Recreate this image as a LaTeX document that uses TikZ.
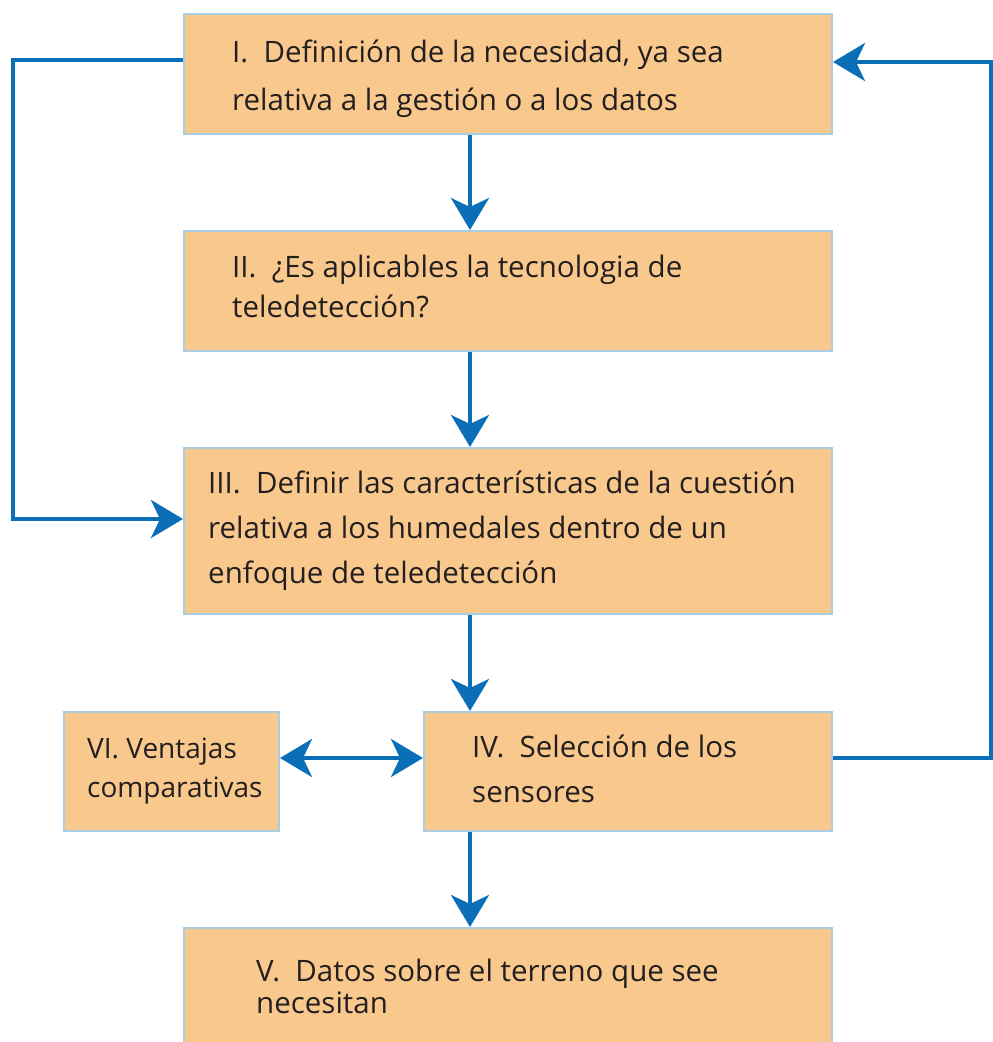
\documentclass[tikz,border=0pt]{standalone}
\usepackage{fontspec}
\setmainfont{Open Sans}
\usetikzlibrary{arrows.meta}
\definecolor{boxfill}{HTML}{F9C88C}
\definecolor{boxline}{HTML}{A9CDE3}
\definecolor{arrowblue}{HTML}{0B6FB8}
\definecolor{txtcol}{HTML}{231F20}
\begin{document}
\begin{tikzpicture}[x=1pt,y=-1pt,
  box/.style={draw=boxline,fill=boxfill,line width=2pt,rectangle,anchor=north west,inner sep=0pt},
  txt/.style={anchor=base west,align=left,inner sep=0pt,text=txtcol},
  conn/.style={draw=arrowblue,line width=4pt},
  tip/.style={-{Stealth[length=32pt,width=38pt,inset=9pt]}},
  both/.style={{Stealth[length=32pt,width=38pt,inset=9pt]}-{Stealth[length=32pt,width=38pt,inset=9pt]}}]
\useasboundingbox (0,0) rectangle (993,1042);
% boxes
\node[box,minimum width=648pt,minimum height=120pt] (b1) at (183,13) {};
\node[box,minimum width=648pt,minimum height=120pt] (b2) at (183,230) {};
\node[box,minimum width=648pt,minimum height=166pt] (b3) at (183,447) {};
\node[box,minimum width=408pt,minimum height=119pt] (b4) at (423,711) {};
\node[box,minimum width=215pt,minimum height=119pt] (b6) at (63,711) {};
\node[box,minimum width=648pt,minimum height=140pt] (b5) at (183,927) {};
% texts (anchor base = last line's baseline)
\node[txt,font=\fontsize{29.5}{48}\selectfont] (t1) at (232,110) {I.\ \ Definición de la necesidad, ya sea\\relativa a la gestión o a los datos};
\node[txt,font=\fontsize{29.5}{40}\selectfont] (t2) at (232,317) {II.\ \ ¿Es aplicables la tecnologia de\\teledetección?};
\node[txt,font=\fontsize{29.5}{45}\selectfont] (t3) at (208,583) {III.\ \ Definir las características de la cuestión\\relativa a los humedales dentro de un\\enfoque de teledetección};
\node[txt,font=\fontsize{29.5}{45}\selectfont] (t4) at (472,802) {IV.\ \ Selección de los\\sensores};
\node[txt,font=\fontsize{28}{39}\selectfont] (t6) at (87,797) {VI. Ventajas\\comparativas};
\node[txt,font=\fontsize{29.5}{32}\selectfont] (t5) at (256,1013) {V.\ \ Datos sobre el terreno que see\\necesitan};
% connectors
\coordinate (L1) at (13,60);
\coordinate (L2) at (13,519);
\coordinate (R1) at (991,758);
\coordinate (R2) at (991,62);
\draw[conn,tip] (b1.south -| 470,0) -- (b2.north -| 470,0);
\draw[conn,tip] (b2.south -| 470,0) -- (b3.north -| 470,0);
\draw[conn,tip] (b3.south -| 470,0) -- (b4.north -| 470,0);
\draw[conn,tip] (b4.south -| 470,0) -- (b5.north -| 470,0);
\draw[conn,tip] (b1.west |- L1) -- (L1) -- (L2) -- (b3.west |- L2);
\draw[conn,tip] (b4.east |- R1) -- (R1) -- (R2) -- (b1.east |- R2);
\draw[conn,both] (b6.east |- R1) -- (b4.west |- R1);
\end{tikzpicture}
\end{document}
